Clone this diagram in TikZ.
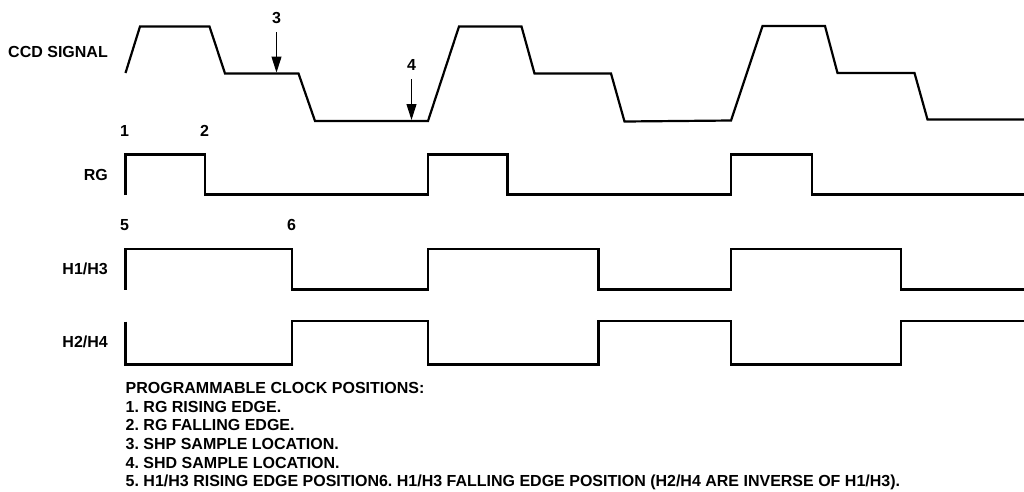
\documentclass[tikz,border=0pt]{standalone}
\usepackage{fontspec}
\setmainfont{Liberation Sans}
\usetikzlibrary{arrows.meta}
\tikzset{
  x=1pt,y=-1pt,
  wave/.style={line width=2.2pt,line join=miter,black},
  marker/.style={line width=1pt,-{Triangle[length=16pt,width=10pt]}},
  lbl/.style={inner sep=0pt,font=\fontsize{16}{18}\bfseries\selectfont,text=black},
  sig/.style={lbl,anchor=base east},
  num/.style={lbl,anchor=base},
  note/.style={lbl,anchor=base west},
}
\begin{document}
\frenchspacing
\begin{tikzpicture}
\useasboundingbox (0,0) rectangle (1024,491);
% signal labels
\node[sig] (ccd) at (108,57) {CCD SIGNAL};
\node[sig] (rg) at (108,180.5) {RG};
\node[sig] (h13) at (108,274.5) {H1/H3};
\node[sig] (h24) at (108,347.5) {H2/H4};
% waveforms
\draw[wave] (125.5,73) -- (140,26.5) -- (209.5,26.5) -- (225,73.5) -- (298.5,73.5) -- (315,121) -- (428,121) -- (459,26.5) -- (521.5,26.5) -- (534.5,73.5) -- (611,73.5) -- (624.5,121.5) -- (731,120.5) -- (762.5,26) -- (825,26) -- (837.5,73) -- (914.5,73) -- (927.5,119.5) -- (1024,119.5);
\draw[wave] (125.5,195) -- (125.5,154.5) -- (205,154.5) -- (205,194.5) -- (428,194.5) -- (428,154.5) -- (507.5,154.5) -- (507.5,194.5) -- (731,194.5) -- (731,154.5) -- (812,154.5) -- (812,194.5) -- (1024,194.5);
\draw[wave] (125.5,289.5) -- (125.5,249) -- (292,249) -- (292,289.5) -- (428,289.5) -- (428,249) -- (598.5,249) -- (598.5,289.5) -- (731,289.5) -- (731,249) -- (901,249) -- (901,289.5) -- (1024,289.5);
\draw[wave] (125.5,321.5) -- (125.5,364.5) -- (292,364.5) -- (292,321) -- (428,321) -- (428,364.5) -- (598.5,364.5) -- (598.5,321) -- (731,321) -- (731,364.5) -- (901,364.5) -- (901,321) -- (1024,321);
% numbered markers
\node[num] (n1) at (124.5,136.5) {1};
\node[num] (n2) at (204.5,136.5) {2};
\node[num] (n3) at (276.5,23.5) {3};
\node[num] (n4) at (411.5,70.5) {4};
\node[num] (n5) at (124.5,230.5) {5};
\node[num] (n6) at (291.5,230.5) {6};
\coordinate (a3) at (276.5,72.5);
\coordinate (a4) at (411.5,120);
\draw[marker] (n3.south |- 0,32) -- (a3);
\draw[marker] (n4.south |- 0,79) -- (a4);
% notes
\node[note] (t0) at (125.5,393.5) {PROGRAMMABLE CLOCK POSITIONS:};
\node[note] (t1) at (125.5,412) {1. RG RISING EDGE.};
\node[note] (t2) at (125.5,430.5) {2. RG FALLING EDGE.};
\node[note] (t3) at (125.5,449) {3. SHP SAMPLE LOCATION.};
\node[note] (t4) at (125.5,468) {4. SHD SAMPLE LOCATION.};
\node[note] (t5) at (125.5,486.5) {5. H1/H3 RISING EDGE POSITION6. H1/H3 FALLING EDGE POSITION (H2/H4 ARE INVERSE OF H1/H3).};
\end{tikzpicture}
\end{document}
